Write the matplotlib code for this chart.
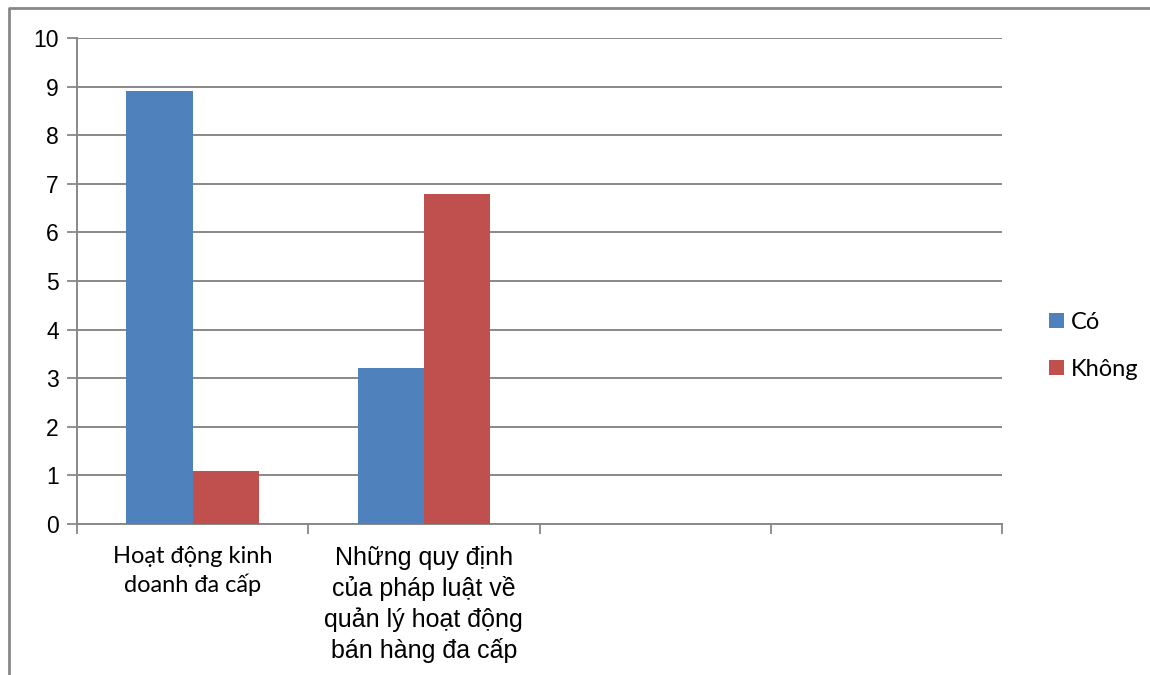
import matplotlib
matplotlib.use('Agg')
import matplotlib.pyplot as plt
from matplotlib.lines import Line2D
from matplotlib.patches import Patch
import numpy as np

categories = ['Hoạt động kinh\ndoanh đa cấp',
              'Những quy định\ncủa pháp luật về\nquản lý hoạt động\nbán hàng đa cấp']
n_slots = 4                 # trục có 4 nhóm, hai nhóm cuối để trống
series_names = ['Có', 'Không']
co_values = [8.9, 3.2]
khong_values = [1.1, 6.8]
colors = ['#4F81BD', '#C0504D']
yticks = list(range(0, 11))

GRID = '#888888'

fig = plt.figure(figsize=(11.5, 6.75), dpi=100)
ax = fig.add_axes([77/1150, 151/675, 925/1150, 486/675])

x = np.arange(len(categories))
width = 0.286
ax.bar(x - width/2, co_values, width, color=colors[0], zorder=3)
ax.bar(x + width/2, khong_values, width, color=colors[1], zorder=3)

ax.set_xlim(-0.5, n_slots - 0.5)
ax.set_ylim(0, 10)

# trục tung
ax.set_yticks(yticks)
ax.set_yticklabels([str(t) for t in yticks], family='Liberation Sans', fontsize=16.5)
ax.tick_params(axis='y', length=7, width=1.3, color=GRID, pad=6)
ax.yaxis.grid(True, color=GRID, linewidth=1.4, zorder=0)

# trục hoành: vạch chia ở ranh giới các nhóm, nhãn ở giữa
ax.set_xticks(np.arange(-0.5, n_slots, 1.0), minor=True)
ax.set_xticks(x)
ax.set_xticklabels(categories)
ax.tick_params(axis='x', which='major', length=0, pad=16)
ax.tick_params(axis='x', which='minor', length=7, width=1.3, color=GRID)
lbls = ax.get_xticklabels()
lbls[0].set_family('Lato')
lbls[0].set_fontsize(17)
lbls[0].set_linespacing(1.35)
lbls[1].set_family('Liberation Sans')
lbls[1].set_fontsize(18)
lbls[1].set_linespacing(1.3)
for lb in lbls:
    lb.set_verticalalignment('top')

for side in ['top', 'right']:
    ax.spines[side].set_visible(False)
for side in ['left', 'bottom']:
    ax.spines[side].set_color(GRID)
    ax.spines[side].set_linewidth(1.4)

handles = [Patch(facecolor=c, edgecolor='none') for c in colors]
fig.legend(handles, series_names, loc='center left',
           bbox_to_anchor=(1028/1150, 1 - 346/675), frameon=False,
           prop={'family': 'Lato', 'size': 17},
           handlelength=0.62, handleheight=0.62, handletextpad=0.3,
           labelspacing=1.1)

# khung viền ngoài
fig.add_artist(Line2D([9/1150, 9/1150, 1.0], [0.0, 1 - 8/675, 1 - 8/675],
                      transform=fig.transFigure, color=GRID, linewidth=2))

fig.savefig('out.png', dpi=100)
